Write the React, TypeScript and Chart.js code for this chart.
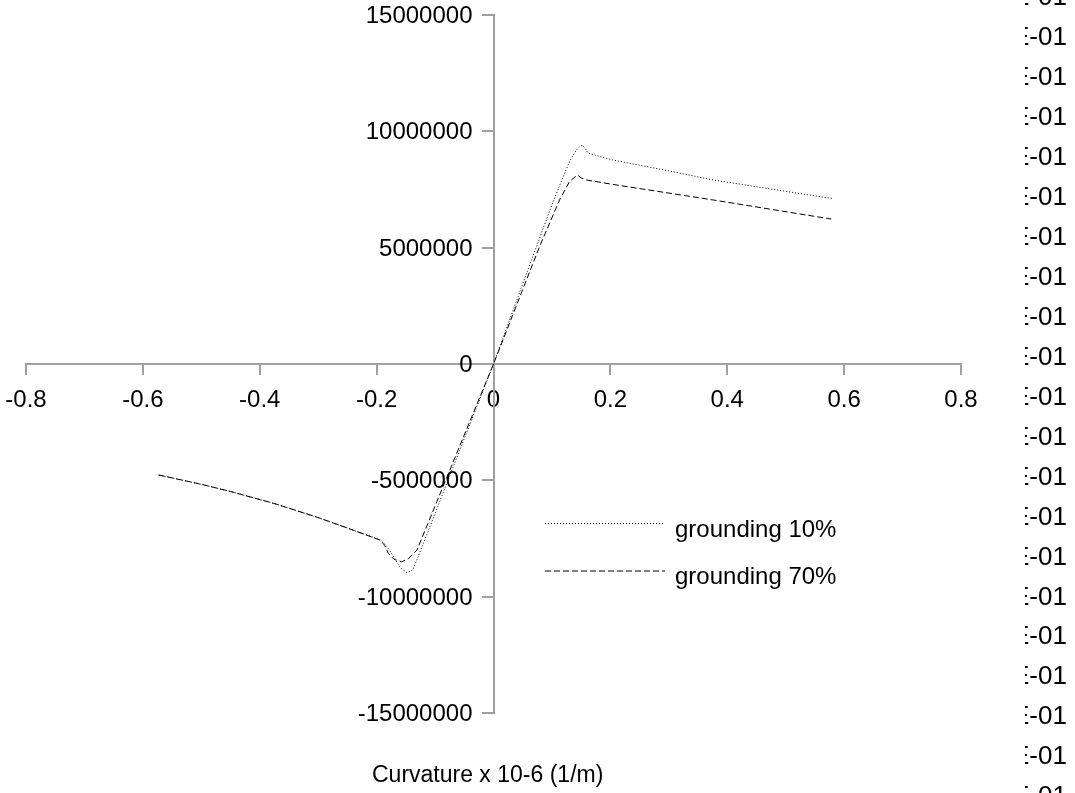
import React, { useEffect, useRef } from "react";
import { Chart, registerables } from "chart.js";

Chart.register(...registerables);

// grounding 10% (dotted)
const g10X = [-0.573, -0.5, -0.45, -0.376, -0.3, -0.25, -0.194, -0.182, -0.171, -0.16, -0.148, -0.138, -0.12, -0.06, 0, 0.05, 0.1, 0.125, 0.133, 0.142, 0.148, 0.153, 0.157, 0.162, 0.204, 0.3, 0.376, 0.48, 0.58];
const g10Y = [-4770000, -5170000, -5480000, -5990000, -6600000, -7050000, -7550000, -7850000, -8280000, -8750000, -8970000, -8850000, -7710000, -3850000, 0, 3450000, 6850000, 8400000, 8840000, 9200000, 9360000, 9400000, 9250000, 9060000, 8770000, 8300000, 7910000, 7500000, 7110000];

// grounding 70% (dashed)
const g70X = [-0.573, -0.5, -0.45, -0.376, -0.3, -0.25, -0.194, -0.186, -0.18, -0.17, -0.157, -0.145, -0.131, -0.06, 0, 0.0787, 0.113, 0.13, 0.14, 0.144, 0.15, 0.159, 0.204, 0.376, 0.578];
const g70Y = [-4770000, -5170000, -5480000, -5990000, -6600000, -7050000, -7570000, -7800000, -8140000, -8400000, -8500000, -8350000, -8000000, -3660000, 0, 5040000, 7050000, 7840000, 8050000, 8120000, 8000000, 7910000, 7720000, 7050000, 6230000];

const xTicks = [-0.8, -0.6, -0.4, -0.2, 0, 0.2, 0.4, 0.6, 0.8];
const yTicks = [-15000000, -10000000, -5000000, 0, 5000000, 10000000, 15000000];
const seriesNames = ["grounding 10%", "grounding 70%"];
const xTitle = "Curvature x 10-6 (1/m)";
const sideLabels = [
  "E-01", "E-01", "E-01", "E-01", "E-01", "E-01", "E-01",
  "E-01", "E-01", "E-01", "E-01", "E-01", "E-01", "E-01",
  "E-01", "E-01", "E-01", "E-01", "E-01", "E-01", "E-01",
];

const FAMILY = "'Liberation Sans', Arial, sans-serif";
const AXIS_COLOR = "#a0a0a0";
const Y_TICK_LEN = 11;
const Y_TICK_PAD = 10;

const overlayPlugin = {
  id: "overlay",
  afterDraw(chart: any) {
    const ctx = chart.ctx as CanvasRenderingContext2D;
    const xs = chart.scales.x;
    const ys = chart.scales.y;
    ctx.save();
    // y tick labels, placed left of the centred y axis
    const axisX = xs.getPixelForValue(0);
    ctx.font = `24px ${FAMILY}`;
    ctx.fillStyle = "#000";
    ctx.textAlign = "right";
    ctx.textBaseline = "middle";
    for (const t of ys.ticks) {
      ctx.fillText(String(t.value), axisX - Y_TICK_LEN - Y_TICK_PAD, ys.getPixelForValue(t.value) + 1.5);
    }
    // legend
    const dashes = [[1, 2], [6, 3]];
    const lineY = [523.5, 571];
    const textY = [536.5, 584];
    for (let i = 0; i < seriesNames.length; i++) {
      ctx.beginPath();
      ctx.setLineDash(dashes[i]);
      ctx.strokeStyle = "#000";
      ctx.lineWidth = 1;
      ctx.moveTo(545, lineY[i]);
      ctx.lineTo(665, lineY[i]);
      ctx.stroke();
      ctx.setLineDash([]);
      ctx.fillStyle = "#000";
      ctx.font = `24px ${FAMILY}`;
      ctx.textAlign = "left";
      ctx.textBaseline = "alphabetic";
      ctx.fillText(seriesNames[i], 675, textY[i]);
    }
    // axis title
    ctx.font = `23px ${FAMILY}`;
    ctx.textAlign = "left";
    ctx.textBaseline = "alphabetic";
    ctx.fillText(xTitle, 372, 782);
    ctx.restore();
  },
};

function zeroPadding(s: any) {
  s.paddingLeft = 0;
  s.paddingRight = 0;
  s.paddingTop = 0;
  s.paddingBottom = 0;
}

export default function App() {
  const ref = useRef<HTMLCanvasElement>(null);
  useEffect(() => {
    if (!ref.current) return;
    const font = { family: FAMILY, size: 24 };
    const chart = new Chart(ref.current, {
      type: "line",
      data: {
        datasets: [
          {
            label: seriesNames[0],
            data: g10X.map((x, i) => ({ x, y: g10Y[i] })),
            borderColor: "#000",
            borderWidth: 1,
            borderDash: [1, 2],
            pointRadius: 0,
            fill: false,
            tension: 0,
          },
          {
            label: seriesNames[1],
            data: g70X.map((x, i) => ({ x, y: g70Y[i] })),
            borderColor: "#000",
            borderWidth: 1,
            borderDash: [6, 3],
            pointRadius: 0,
            fill: false,
            tension: 0,
          },
        ],
      },
      options: {
        animation: false,
        responsive: false,
        maintainAspectRatio: false,
        layout: { padding: { left: 26, right: 114, top: 15, bottom: 80 } },
        plugins: { legend: { display: false }, tooltip: { enabled: false } },
        scales: {
          x: {
            type: "linear",
            min: -0.8,
            max: 0.8,
            position: { y: 0 } as any,
            afterBuildTicks: (s: any) => {
              s.ticks = xTicks.map((v) => ({ value: v }));
            },
            afterFit: (s: any) => {
              s.height = 0;
              zeroPadding(s);
            },
            grid: { drawOnChartArea: false, drawTicks: true, tickLength: 10, color: AXIS_COLOR, lineWidth: 2 },
            border: { display: true, color: AXIS_COLOR, width: 2 },
            ticks: { font, color: "#000", padding: 12, maxRotation: 0, autoSkip: false, callback: (v: any) => String(v) },
          },
          y: {
            type: "linear",
            min: -15000000,
            max: 15000000,
            position: { x: 0 } as any,
            afterBuildTicks: (s: any) => {
              s.ticks = yTicks.map((v) => ({ value: v }));
            },
            afterFit: (s: any) => {
              s.width = 0;
              zeroPadding(s);
            },
            grid: { drawOnChartArea: false, drawTicks: true, tickLength: Y_TICK_LEN, color: AXIS_COLOR, lineWidth: 2 },
            border: { display: true, color: AXIS_COLOR, width: 2 },
            ticks: { display: false, font, color: "#000", padding: Y_TICK_PAD, autoSkip: false },
          },
        },
      },
      plugins: [overlayPlugin],
    });
    return () => chart.destroy();
  }, []);

  const step = 39.94;
  return (
    <div style={{ position: "fixed", left: 0, top: 0, width: 1075, height: 793, background: "#fff", overflow: "hidden" }}>
      <canvas ref={ref} width={1075} height={793} style={{ width: 1075, height: 793, display: "block" }} />
      <div style={{ position: "absolute", left: 1025, top: 0, width: 50, height: 793, overflow: "hidden" }}>
        {sideLabels.map((t, i) => (
          <div
            key={i}
            style={{
              position: "absolute",
              left: -13,
              top: -3.9 + step * i - 14.7,
              fontFamily: FAMILY,
              fontSize: 26,
              lineHeight: "30px",
              color: "#000",
              whiteSpace: "nowrap",
            }}
          >
            {t}
          </div>
        ))}
      </div>
    </div>
  );
}
